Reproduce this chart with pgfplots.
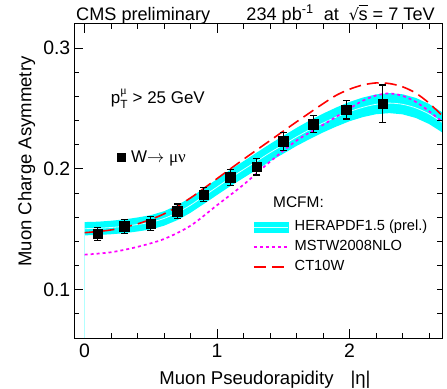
\documentclass[border=0pt]{standalone}
\usepackage{amsmath}
\usepackage{pgfplots}
\pgfplotsset{compat=1.18}
\usepackage{pgfplotstable}
\usepackage{fontspec}
\setmainfont{Liberation Sans}
\newfontfamily\symfont{Liberation Serif}
\newfontfamily\sqfont{DejaVu Sans}
\definecolor{rcyan}{RGB}{0,255,255}
\definecolor{rmag}{RGB}{255,0,255}
\definecolor{rred}{RGB}{255,0,0}
\definecolor{rline}{RGB}{215,255,255}

\pgfplotstableread{
eta A err
0.1 0.1462 0.0052
0.3 0.1526 0.0058
0.5 0.1548 0.0058
0.7 0.1650 0.0060
0.9 0.1788 0.0060
1.1 0.1930 0.0066
1.3 0.2018 0.0069
1.5 0.2228 0.0074
1.725 0.2372 0.0072
1.975 0.2490 0.0077
2.25 0.2540 0.0155
}\data

\pgfplotstableread{
eta c
0.0 0.1505
0.1 0.1508
0.2 0.1515
0.3 0.1525
0.4 0.1540
0.5 0.1558
0.6 0.1590
0.7 0.1638
0.8 0.1700
0.9 0.1775
1.0 0.1850
1.1 0.1925
1.2 0.1995
1.3 0.2065
1.4 0.2135
1.5 0.2200
1.6 0.2265
1.7 0.2325
1.8 0.2380
1.9 0.2430
2.0 0.2475
2.1 0.2510
2.2 0.2535
2.3 0.2545
2.4 0.2535
2.5 0.2505
2.6 0.2455
2.7 0.2385
}\hera

\pgfplotstableread{
eta A
0.0 0.1472
0.2 0.1495
0.4 0.1545
0.6 0.1628
0.8 0.1760
1.0 0.1920
1.2 0.2080
1.4 0.2235
1.6 0.2390
1.8 0.2540
1.9 0.2610
2.0 0.2660
2.1 0.2695
2.2 0.2712
2.3 0.2707
2.4 0.2680
2.5 0.2628
2.6 0.2545
2.7 0.2440
}\ct

\pgfplotstableread{
eta A
0.0 0.1290
0.2 0.1310
0.4 0.1355
0.6 0.1420
0.8 0.1530
1.0 0.1700
1.2 0.1870
1.4 0.2060
1.6 0.2235
1.8 0.2365
2.0 0.2500
2.1 0.2565
2.2 0.2608
2.3 0.2625
2.4 0.2605
2.5 0.2555
2.6 0.2478
2.7 0.2390
}\mstw

\begin{document}
\begin{tikzpicture}
\path[use as bounding box] (0,0) rectangle (447bp,389bp);
\begin{axis}[
  at={(74bp,51bp)}, anchor=south west,
  scale only axis, width=368.3bp, height=314bp,
  xmin=-0.08, xmax=2.7, ymin=0.06, ymax=0.32,
  xtick={0,1,2}, ytick={0.1,0.2,0.3},
  minor xtick={0.2,0.4,0.6,0.8,1.2,1.4,1.6,1.8,2.2,2.4,2.6},
  minor ytick={0.08,0.12,0.14,0.16,0.18,0.22,0.24,0.26,0.28},
  ytick pos=left,
  tick align=inside, major tick length=9bp, minor tick length=5bp,
  axis line style={line width=1bp},
  every tick/.style={black, line width=0.9bp},
  /pgf/number format/assume math mode=true,
  yticklabel style={/pgf/number format/fixed, /pgf/number format/precision=1, /pgf/number format/fixed zerofill, anchor=east, inner sep=0pt, xshift=-3.5bp},
  xticklabel style={anchor=north, inner sep=0pt, yshift=-6bp},
  ticklabel style={font=\fontsize{19.5}{21}\selectfont},
  xlabel={Muon Pseudorapidity\hspace{17bp}|η|},
  xlabel style={at={(axis description cs:0.5186,-0.1465)}, anchor=base, font=\fontsize{18.6}{21}\selectfont, inner sep=0pt},
  ylabel={Muon Charge Asymmetry},
  ylabel style={at={(axis description cs:-0.1154,0.562)}, anchor=base, font=\fontsize{18.6}{21}\selectfont, inner sep=0pt},
  clip=false,
  legend image code/.code={\draw[#1] (0bp,0bp) -- (34bp,0bp);},
  legend style={draw=none, fill=none, at={(axis description cs:0.486,0.3742)}, anchor=north west,
    inner sep=0pt, outer sep=0pt, row sep=6.5bp, column sep=6bp,
    font=\fontsize{14.7}{16}\selectfont,
    nodes={inner sep=0pt, text height=10.5bp, text depth=3bp}},
  legend cell align=left,
]
% HERAPDF band (upper edge, then lower edge reversed)
\addplot[fill=rcyan, draw=none, forget plot] coordinates {
(0.0,0.1560) (0.1,0.1563) (0.2,0.1571) (0.3,0.1582) (0.4,0.1598) (0.5,0.1617)
(0.6,0.1650) (0.7,0.1700) (0.8,0.1763) (0.9,0.1840) (1.0,0.1916) (1.1,0.1993)
(1.2,0.2064) (1.3,0.2136) (1.4,0.2207) (1.5,0.2274) (1.6,0.2340) (1.7,0.2402)
(1.8,0.2458) (1.9,0.2509) (2.0,0.2555) (2.1,0.2591) (2.2,0.2617) (2.3,0.2628)
(2.4,0.2618) (2.5,0.2588) (2.6,0.2538) (2.7,0.2468)
(2.7,0.2302) (2.6,0.2372) (2.5,0.2422) (2.4,0.2452) (2.3,0.2462) (2.2,0.2453)
(2.1,0.2429) (2.0,0.2395) (1.9,0.2351) (1.8,0.2302) (1.7,0.2248) (1.6,0.2190)
(1.5,0.2126) (1.4,0.2063) (1.3,0.1994) (1.2,0.1926) (1.1,0.1857) (1.0,0.1784)
(0.9,0.1710) (0.8,0.1637) (0.7,0.1576) (0.6,0.1530) (0.5,0.1499) (0.4,0.1482)
(0.3,0.1468) (0.2,0.1459) (0.1,0.1453) (0.0,0.1450)
};
\addplot[rcyan!30, line width=0.7bp, forget plot] coordinates {(0,0.06) (0,0.145)};
\addplot[rline, line width=0.8bp, smooth, forget plot] table[x=eta, y=c] {\hera};
% MSTW
\addplot[rmag, line width=1.7bp, dash pattern=on 3bp off 3bp, smooth, forget plot] table[x=eta, y=A] {\mstw};
% CT10W
\addplot[rred, line width=1.6bp, dash pattern=on 12bp off 6bp, smooth, forget plot] table[x=eta, y=A] {\ct};

\addlegendimage{legend image code/.code={\fill[rcyan] (0bp,-5bp) rectangle (34bp,5bp); \draw[rline, line width=0.8bp] (0bp,0bp) -- (34bp,0bp);}}
\addlegendentry{HERAPDF1.5 (prel.)}
\addlegendimage{rmag, line width=1.7bp, dash pattern=on 3bp off 3bp}
\addlegendentry{MSTW2008NLO}
\addlegendimage{rred, line width=1.6bp, dash pattern=on 12bp off 6bp}
\addlegendentry{CT10W}

\node[anchor=base west, inner sep=0pt, font=\fontsize{15.5}{17}\selectfont] at (axis description cs:0.5403,0.415) {MCFM:};
\node[anchor=base west, inner sep=0pt, font=\fontsize{17}{19}\selectfont] at (axis description cs:0.0996,0.7475) {p$_{\text{T}}^{\text{\symfont μ}}$ > 25 GeV};
\node[anchor=base west, inner sep=0pt, font=\fontsize{18.2}{20}\selectfont] at (axis description cs:0.0054,1.0127) {CMS preliminary};
\node[anchor=base east, inner sep=0pt, font=\fontsize{18.2}{20}\selectfont] at (axis description cs:0.980,1.0127) {234 pb\textsuperscript{-1} \ at \ {\sqfont\fontsize{16}{18}\selectfont √}\kern-0.5pt$\overline{\vphantom{A}\text{s}}$ = 7 TeV};
\end{axis}
\begin{axis}[
  at={(74bp,51bp)}, anchor=south west,
  scale only axis, width=368.3bp, height=314bp,
  xmin=-0.08, xmax=2.7, ymin=0.06, ymax=0.32,
  axis x line=none, axis y line*=right,
  ytick={0.08,0.10,0.12,0.14,0.16,0.18,0.20,0.22,0.24,0.26,0.28,0.30},
  yticklabels={},
  tick align=inside, major tick length=5bp,
  axis line style={line width=1bp},
  every tick/.style={black, line width=0.9bp},
  clip=false,
  legend image code/.code={\draw[black, fill=black] (-4bp,-4bp) rectangle (4bp,4bp);},
  legend style={draw=none, fill=none, at={(axis description cs:0.116,0.5755)}, anchor=west,
    inner sep=0pt, outer sep=0pt, column sep=6bp,
    font=\fontsize{17}{19}\selectfont,
    nodes={inner sep=0pt}},
]
% data
\addplot[black, only marks, mark=square*, mark size=4.8bp,
  error bars/.cd, y dir=both, y explicit,
  error bar style={line width=1.2bp},
  error mark options={rotate=90, line width=1.2bp, mark size=3.5bp}]
  table[x=eta, y=A, y error=err] {\data};
\addlegendentry{W$\rightarrow$ {\symfont μν}}
\end{axis}
\end{tikzpicture}
\end{document}
